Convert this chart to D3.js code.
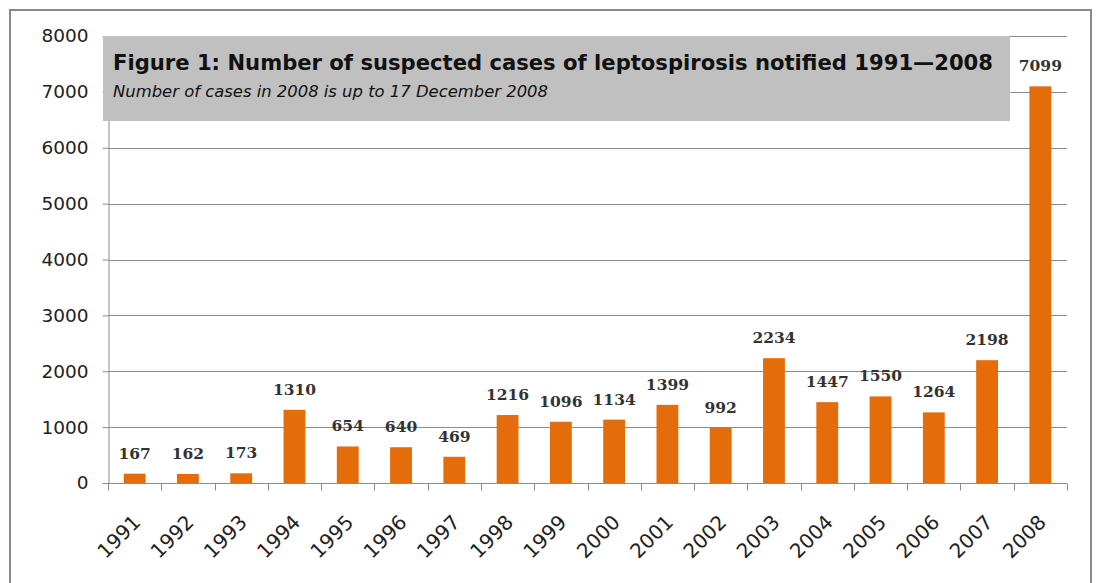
<!DOCTYPE html>
<html lang="en">
<head>
<meta charset="utf-8">
<title>Suspected cases of leptospirosis 1991-2008</title>
<style>
  body { margin: 0; background: #fff; }
  #chart { position: relative; width: 1097px; height: 583px; }
  .grid line { stroke: #8c8c8c; stroke-width: 1; }
  .axis path, .axis line { stroke: #8c8c8c; }
  .axis text { font-family: "DejaVu Sans", sans-serif; fill: #222; }
  .value { font-family: "DejaVu Serif", serif; font-weight: bold; font-size: 15.5px; fill: #333; text-anchor: middle; }
</style>
</head>
<body>
<div id="chart"></div>
<script src="https://d3js.org/d3.v7.min.js"></script>
<script>
// data
const years = ['1991', '1992', '1993', '1994', '1995', '1996', '1997', '1998', '1999',
  '2000', '2001', '2002', '2003', '2004', '2005', '2006', '2007', '2008'];
const cases = [167, 162, 173, 1310, 654, 640, 469, 1216, 1096,
  1134, 1399, 992, 2234, 1447, 1550, 1264, 2198, 7099];
const yTicks = [0, 1000, 2000, 3000, 4000, 5000, 6000, 7000, 8000];
const titleText = 'Figure 1: Number of suspected cases of leptospirosis notified 1991\u20142008';
const subtitleText = 'Number of cases in 2008 is up to 17 December 2008';

const W = 1097, H = 583;
const plotLeft = 108, plotRight = 1067, plotTop = 36, plotBottom = 483;

const svg = d3.select('#chart').append('svg')
  .attr('width', W)
  .attr('height', H);

// outer frame
svg.append('rect')
  .attr('x', 10).attr('y', 10)
  .attr('width', 1081).attr('height', 600)
  .attr('fill', 'none')
  .attr('stroke', '#8a8a8a')
  .attr('stroke-width', 2);

const x = d3.scaleBand()
  .domain(years)
  .range([plotLeft, plotRight]);

const y = d3.scaleLinear()
  .domain([0, 8000])
  .range([plotBottom, plotTop]);

// horizontal gridlines
svg.append('g')
  .attr('class', 'grid')
  .selectAll('line')
  .data(yTicks.filter(d => d > 0))
  .join('line')
  .attr('x1', plotLeft).attr('x2', plotRight)
  .attr('y1', d => Math.round(y(d)) + 0.5)
  .attr('y2', d => Math.round(y(d)) + 0.5);

// bars
const barW = x.bandwidth() * 0.41;
svg.append('g')
  .selectAll('rect')
  .data(cases)
  .join('rect')
  .attr('x', (d, i) => x(years[i]) + (x.bandwidth() - barW) / 2)
  .attr('y', d => y(d))
  .attr('width', barW)
  .attr('height', d => y(0) - y(d))
  .attr('fill', '#e46c0a');

// value labels
svg.append('g')
  .selectAll('text')
  .data(cases)
  .join('text')
  .attr('class', 'value')
  .attr('x', (d, i) => x(years[i]) + x.bandwidth() / 2)
  .attr('y', d => y(d) - 15)
  .text(d => d);

// y axis
const yAxis = svg.append('g')
  .attr('class', 'axis')
  .attr('transform', `translate(${plotLeft + 0.5},0)`)
  .call(d3.axisLeft(y).tickValues(yTicks).tickFormat(d3.format('d'))
    .tickSize(6).tickPadding(14).tickSizeOuter(0));
yAxis.selectAll('text').style('font-size', '18.5px');

// x axis with ticks at the category boundaries
const xAxis = svg.append('g')
  .attr('class', 'axis')
  .attr('transform', `translate(0,${plotBottom + 0.5})`);
xAxis.append('line')
  .attr('x1', plotLeft).attr('x2', plotRight)
  .attr('stroke', '#8c8c8c');
xAxis.selectAll('line.tick')
  .data(years.map(d => x(d)).concat([plotRight]))
  .join('line')
  .attr('class', 'tick')
  .attr('x1', d => Math.round(d) + 0.5).attr('x2', d => Math.round(d) + 0.5)
  .attr('y1', 0).attr('y2', 7)
  .attr('stroke', '#8c8c8c');
xAxis.selectAll('text')
  .data(years)
  .join('text')
  .attr('transform', d => `translate(${x(d) + x.bandwidth() / 2 + 7},${40}) rotate(-45)`)
  .attr('text-anchor', 'end')
  .style('font-size', '20px')
  .text(d => d);

// title box
svg.append('rect')
  .attr('x', 103).attr('y', 36)
  .attr('width', 907).attr('height', 85)
  .attr('fill', '#c0c0c0');

svg.append('text')
  .attr('x', 113).attr('y', 70)
  .attr('font-family', '"DejaVu Sans", sans-serif')
  .attr('font-weight', 'bold')
  .attr('font-size', 21)
  .attr('fill', '#111')
  .attr('textLength', 880)
  .attr('lengthAdjust', 'spacingAndGlyphs')
  .text(titleText);

svg.append('text')
  .attr('x', 113).attr('y', 97)
  .attr('font-family', '"DejaVu Sans", sans-serif')
  .attr('font-style', 'italic')
  .attr('font-size', 15)
  .attr('fill', '#111')
  .attr('textLength', 435)
  .attr('lengthAdjust', 'spacingAndGlyphs')
  .text(subtitleText);
</script>
</body>
</html>
